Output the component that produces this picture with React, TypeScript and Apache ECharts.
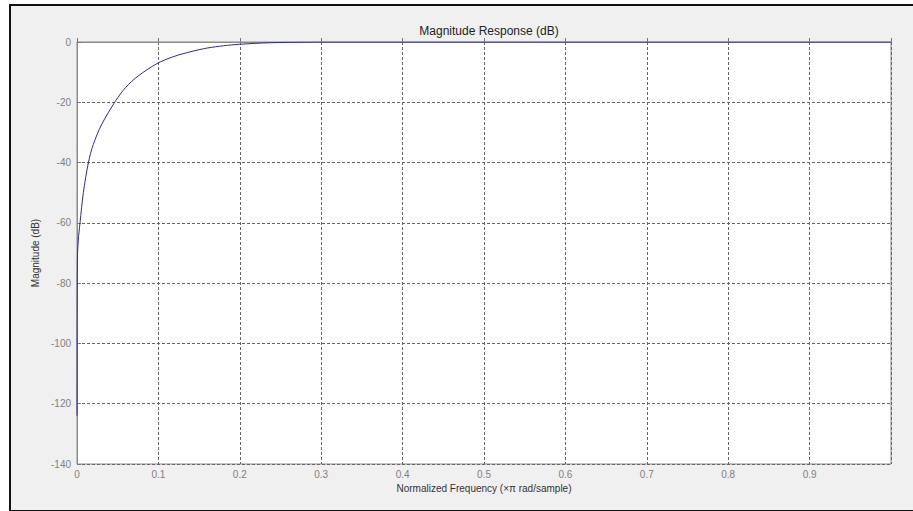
import React, { useEffect, useRef } from "react";
import * as echarts from "echarts";

const chartTitle = "Magnitude Response (dB)";
const xAxisName = "Normalized Frequency (\u00d7\u03c0 rad/sample)";
const yAxisName = "Magnitude (dB)";

// normalized frequency (x pi rad/sample)
const freq = [
  0, 0.0002, 0.0005, 0.0015, 0.0037, 0.0078, 0.014, 0.02, 0.03, 0.047,
  0.06, 0.075, 0.098, 0.118, 0.14, 0.16, 0.18, 0.2, 0.237, 0.274, 0.3,
  0.4, 0.5, 0.6, 0.7, 0.8, 0.9, 1.0,
];
// magnitude in dB
const magnitude = [
  -124, -85, -72, -66, -60, -50, -40, -34, -27.5, -19.7,
  -15, -11.3, -7.2, -4.9, -3.2, -2.0, -1.25, -0.75, -0.25, -0.06, 0,
  0, 0, 0, 0, 0, 0, 0,
];

export default function App() {
  const ref = useRef<HTMLDivElement>(null);
  useEffect(() => {
    if (!ref.current) return;
    const chart = echarts.init(ref.current, undefined, { renderer: "svg" });
    const data = freq.map((f, i) => [f, magnitude[i]]);
    const gridDash = { color: "#666", type: [3, 2] as number[], width: 1 };
    chart.setOption({
      animation: false,
      backgroundColor: "transparent",
      title: {
        text: chartTitle,
        left: 484,
        textAlign: "center",
        top: 20,
        textStyle: {
          fontFamily: "Liberation Sans, Arial, sans-serif",
          fontSize: 12,
          fontWeight: "normal",
          color: "#222",
        },
      },
      grid: {
        left: 77,
        top: 42,
        right: 22,
        bottom: 47,
        show: true,
        backgroundColor: "#ffffff",
        borderColor: "#8a8a8a",
        borderWidth: 1,
      },
      xAxis: {
        type: "value",
        min: 0,
        max: 1,
        interval: 0.1,
        name: xAxisName,
        nameLocation: "middle",
        nameGap: 19,
        nameTextStyle: {
          fontFamily: "Liberation Sans, Arial, sans-serif",
          fontSize: 10,
          color: "#333",
        },
        axisLine: { show: true, lineStyle: { color: "#8a8a8a" } },
        axisTick: { show: true, inside: true, length: 4, lineStyle: { color: "#777" } },
        axisLabel: {
          margin: 5,
          fontFamily: "Liberation Sans, Arial, sans-serif",
          fontSize: 10,
          color: "#808080",
          formatter: (v: number) => (v >= 0.999 ? "" : String(parseFloat(v.toFixed(1)))),
        },
        splitLine: { show: true, lineStyle: gridDash },
      },
      yAxis: {
        type: "value",
        min: -140,
        max: 0,
        interval: 20,
        name: yAxisName,
        nameLocation: "middle",
        nameGap: 36,
        nameRotate: 90,
        nameTextStyle: {
          fontFamily: "Liberation Sans, Arial, sans-serif",
          fontSize: 10,
          color: "#333",
        },
        axisLine: { show: true, lineStyle: { color: "#8a8a8a" } },
        axisTick: { show: true, inside: true, length: 4, lineStyle: { color: "#777" } },
        axisLabel: {
          margin: 6,
          fontFamily: "Liberation Sans, Arial, sans-serif",
          fontSize: 10,
          color: "#808080",
        },
        splitLine: { show: true, lineStyle: gridDash },
      },
      series: [
        {
          type: "line",
          data,
          showSymbol: false,
          smooth: 0.3,
          lineStyle: { color: "#2a2a9c", width: 1 },
          z: 5,
        },
      ],
    });
    return () => chart.dispose();
  }, []);

  return (
    <div style={{ position: "fixed", left: 0, top: 0, width: 913, height: 511, background: "#ffffff", overflow: "hidden" }}>
      <div
        style={{
          position: "absolute",
          left: 9,
          top: 4,
          width: 920,
          height: 504,
          background: "#f0f0f0",
          borderLeft: "2px solid #111",
          borderTop: "2px solid #111",
          borderBottom: "2px solid #111",
        }}
      />
      <div ref={ref} style={{ position: "absolute", left: 0, top: 0, width: 913, height: 511 }} />
    </div>
  );
}
